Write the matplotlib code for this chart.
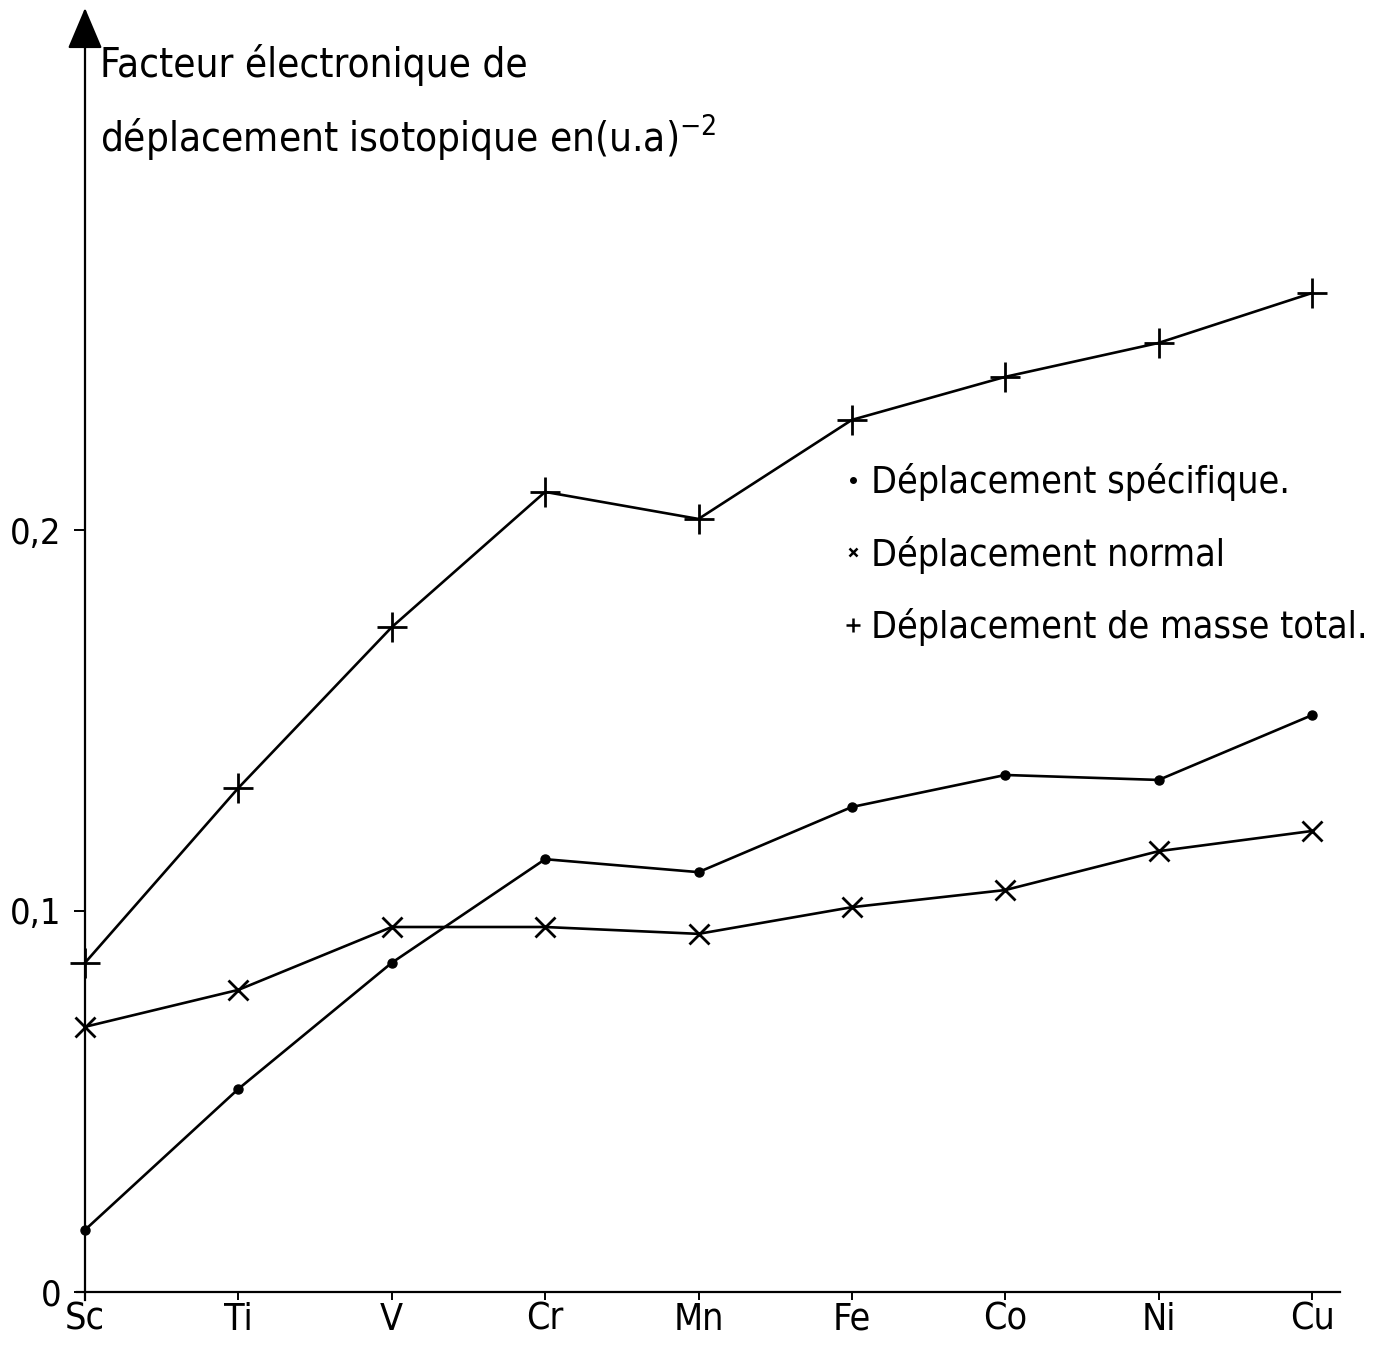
import matplotlib
matplotlib.use("Agg")
import matplotlib.pyplot as plt
from matplotlib.lines import Line2D

# Isotope-shift electronic factors along the 3d transition series
elements = ["Sc", "Ti", "V", "Cr", "Mn", "Fe", "Co", "Ni", "Cu"]
specific = [0.0163, 0.0533, 0.0864, 0.1136, 0.1102, 0.1273, 0.1357, 0.1344, 0.1514]
normal = [0.0696, 0.0793, 0.0958, 0.0958, 0.0940, 0.1010, 0.1055, 0.1157, 0.1210]
total = [0.0864, 0.1323, 0.1745, 0.2100, 0.2029, 0.2289, 0.2402, 0.2491, 0.2622]

y_ticks = [0.0, 0.1, 0.2]
y_ticklabels = ["0", "0,1", "0,2"]

series_labels = ["Déplacement spécifique.", "Déplacement normal",
                 "Déplacement de masse total."]
y_title_lines = ["Facteur électronique de",
                 "déplacement isotopique en(u.a)$^{-2}$"]

plt.rcParams["font.family"] = ["DejaVu Sans"]
plt.rcParams["font.stretch"] = "condensed"
plt.rcParams["mathtext.fontset"] = "dejavusans"

W, H, DPI = 1385, 1346, 100
fig = plt.figure(figsize=(W / DPI, H / DPI), dpi=DPI)
ax = fig.add_axes([0, 0, 1, 1])
ax.set_facecolor("white")

x = list(range(len(elements)))
px_per_x = (1312 - 85) / 8.0
px_per_y = 3810.0
ax.set_xlim(-85 / px_per_x, (W - 85) / px_per_x)
ax.set_ylim(-(H - 1292) / px_per_y, 1292 / px_per_y)

lw = 1.9
ax.plot(x, total, color="black", lw=lw, marker="+", ms=22, mew=2.0,
        clip_on=False, zorder=3)
ax.plot(x, specific, color="black", lw=lw, marker="o", ms=6.5,
        clip_on=False, zorder=3)
ax.plot(x, normal, color="black", lw=lw, marker="x", ms=14, mew=2.0,
        clip_on=False, zorder=3)

# Axes through the origin
for side in ("top", "right"):
    ax.spines[side].set_visible(False)
ax.spines["left"].set_position(("data", 0))
ax.spines["bottom"].set_position(("data", 0))
ax.spines["left"].set_linewidth(1.6)
ax.spines["bottom"].set_linewidth(1.6)
ax.spines["left"].set_bounds(-0.002, 1280 / px_per_y)
ax.spines["bottom"].set_bounds(-0.05, 8.18)

# Arrow head on the vertical axis
ax.annotate("", xy=(0, 1.0 - 8 / H), xycoords=("data", "axes fraction"),
            xytext=(0, 1.0 - 48 / H), textcoords=("data", "axes fraction"),
            arrowprops=dict(arrowstyle="-|>,head_length=2.6,head_width=1.1",
                            color="black", lw=1.6, shrinkA=0, shrinkB=0))

ax.set_xticks(x)
ax.set_xticklabels(elements)
ax.set_yticks(y_ticks)
ax.set_yticklabels(y_ticklabels)
ax.tick_params(axis="x", direction="out", length=6, width=1.4, pad=1,
               labelsize=27)
ax.tick_params(axis="y", direction="out", length=8, width=1.4, pad=9,
               labelsize=26)

# Vertical axis title, written beside the arrow
for line, base_px in zip(y_title_lines, (77, 152)):
    ax.text(100 / W, 1 - base_px / H, line, transform=ax.transAxes,
            ha="left", va="baseline", fontsize=29)

# Key
handles = [
    Line2D([], [], ls="none", marker="o", ms=4, color="black"),
    Line2D([], [], ls="none", marker="x", ms=6, mew=1.8, color="black"),
    Line2D([], [], ls="none", marker="+", ms=10, mew=1.8, color="black"),
]
leg = ax.legend(handles, series_labels, loc="upper left",
                bbox_to_anchor=(845 / W, 1 - 463 / H),
                frameon=False, fontsize=27, handlelength=0.4,
                handletextpad=0.3, labelspacing=0.92, borderpad=0,
                borderaxespad=0)

fig.savefig("out.png", dpi=DPI, facecolor="white")
